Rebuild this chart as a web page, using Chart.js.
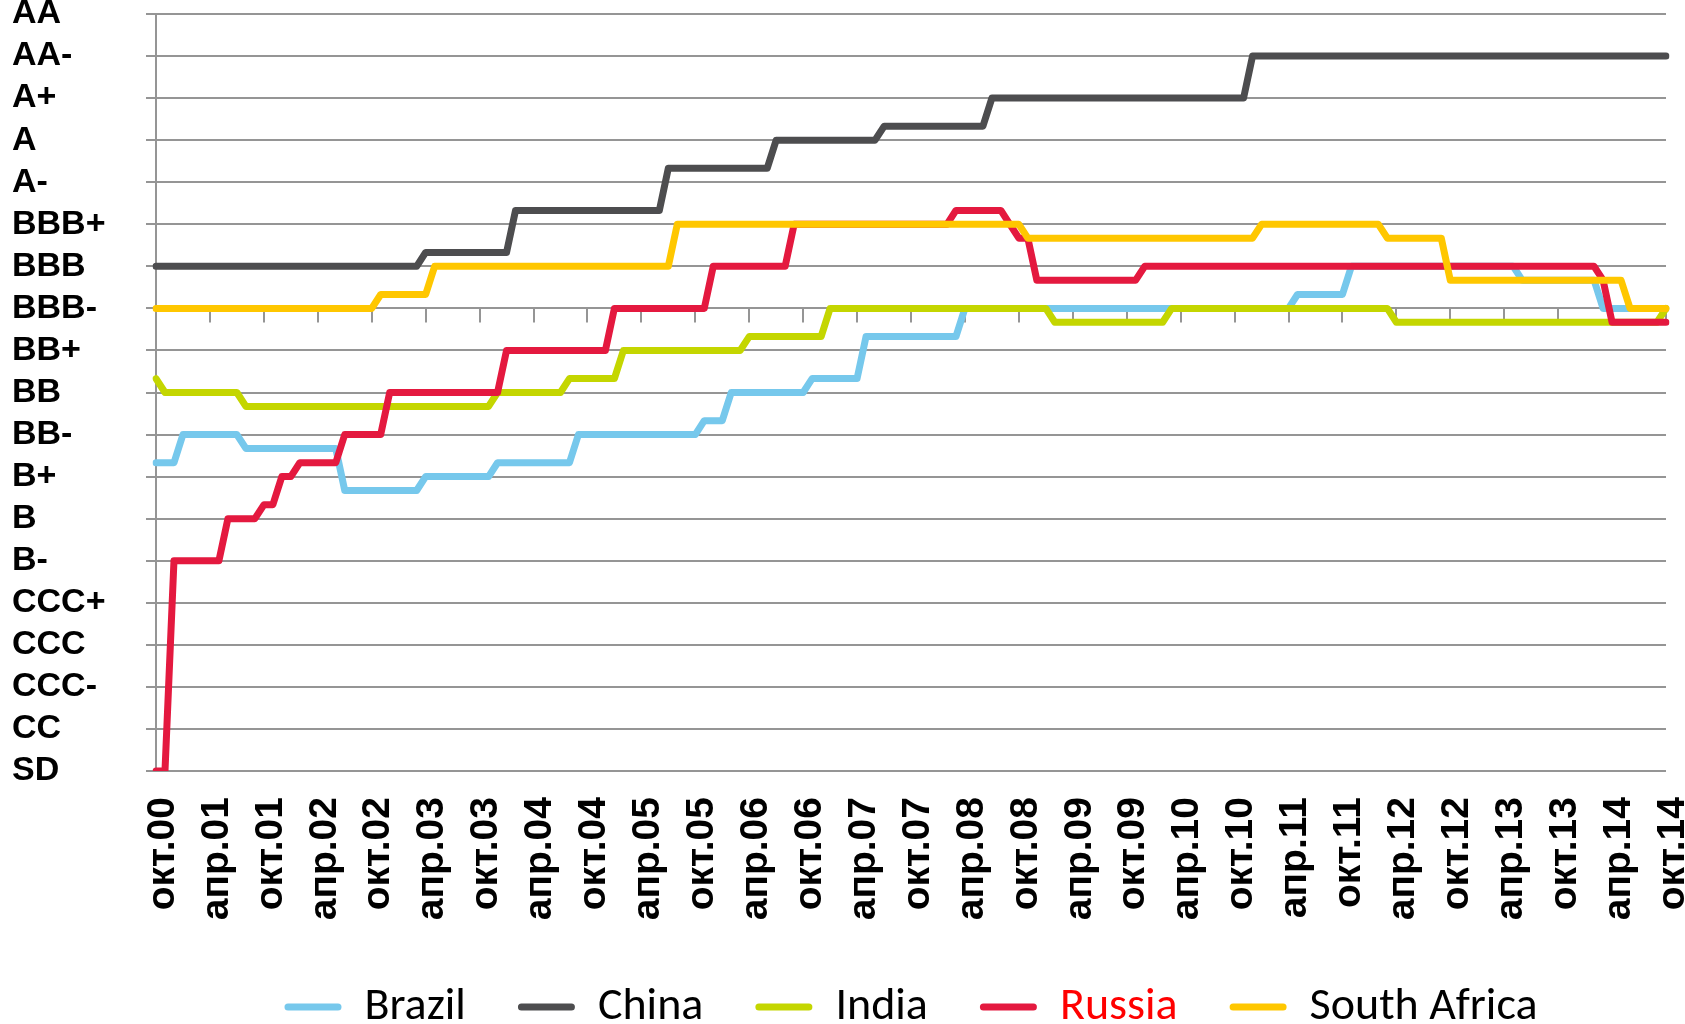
<!DOCTYPE html>
<html>
<head>
<meta charset="utf-8">
<script src="https://cdn.jsdelivr.net/npm/chart.js@4.4.1/dist/chart.umd.min.js"></script>
<style>
  html, body { margin: 0; padding: 0; background: #fff; }
  #wrap { width: 1685px; height: 1024px; }
</style>
</head>
<body>
<div id="wrap"><canvas id="ratingsChart" width="1685" height="1024"></canvas></div>
<script>
// BRICS sovereign ratings, monthly, окт.2000 - окт.2014
// values are notch index (SD = 0 ... AA = 18), averaged over agencies -> thirds

const RATINGS = ['SD', 'CC', 'CCC-', 'CCC', 'CCC+', 'B-', 'B', 'B+', 'BB-', 'BB', 'BB+',
                 'BBB-', 'BBB', 'BBB+', 'A-', 'A', 'A+', 'AA-', 'AA'];
const MONTH_NAMES = ['янв', 'фев', 'мар', 'апр', 'май', 'июн', 'июл', 'авг', 'сен', 'окт', 'ноя', 'дек'];
const SERIES_NAMES = ['Brazil', 'China', 'India', 'Russia', 'South Africa'];

// one row = 12 months, starting with October of each year
const brazil = [
  7.33, 7.33, 7.33, 8, 8, 8, 8, 8, 8, 8, 7.67, 7.67,
  7.67, 7.67, 7.67, 7.67, 7.67, 7.67, 7.67, 7.67, 7.67, 6.67, 6.67, 6.67,
  6.67, 6.67, 6.67, 6.67, 6.67, 6.67, 7, 7, 7, 7, 7, 7,
  7, 7, 7.33, 7.33, 7.33, 7.33, 7.33, 7.33, 7.33, 7.33, 7.33, 8,
  8, 8, 8, 8, 8, 8, 8, 8, 8, 8, 8, 8,
  8, 8.33, 8.33, 8.33, 9, 9, 9, 9, 9, 9, 9, 9,
  9, 9.33, 9.33, 9.33, 9.33, 9.33, 9.33, 10.33, 10.33, 10.33, 10.33, 10.33,
  10.33, 10.33, 10.33, 10.33, 10.33, 10.33, 11, 11, 11, 11, 11, 11,
  11, 11, 11, 11, 11, 11, 11, 11, 11, 11, 11, 11,
  11, 11, 11, 11, 11, 11, 11, 11, 11, 11, 11, 11,
  11, 11, 11, 11, 11, 11, 11, 11.33, 11.33, 11.33, 11.33, 11.33,
  11.33, 12, 12, 12, 12, 12, 12, 12, 12, 12, 12, 12,
  12, 12, 12, 12, 12, 12, 12, 12, 11.67, 11.67, 11.67, 11.67,
  11.67, 11.67, 11.67, 11.67, 11.67, 11, 11, 11, 11, 11, 11, 11,
  11
];

const china = [
  12, 12, 12, 12, 12, 12, 12, 12, 12, 12, 12, 12,
  12, 12, 12, 12, 12, 12, 12, 12, 12, 12, 12, 12,
  12, 12, 12, 12, 12, 12, 12.33, 12.33, 12.33, 12.33, 12.33, 12.33,
  12.33, 12.33, 12.33, 12.33, 13.33, 13.33, 13.33, 13.33, 13.33, 13.33, 13.33, 13.33,
  13.33, 13.33, 13.33, 13.33, 13.33, 13.33, 13.33, 13.33, 13.33, 14.33, 14.33, 14.33,
  14.33, 14.33, 14.33, 14.33, 14.33, 14.33, 14.33, 14.33, 14.33, 15, 15, 15,
  15, 15, 15, 15, 15, 15, 15, 15, 15, 15.33, 15.33, 15.33,
  15.33, 15.33, 15.33, 15.33, 15.33, 15.33, 15.33, 15.33, 15.33, 16, 16, 16,
  16, 16, 16, 16, 16, 16, 16, 16, 16, 16, 16, 16,
  16, 16, 16, 16, 16, 16, 16, 16, 16, 16, 16, 16,
  16, 16, 17, 17, 17, 17, 17, 17, 17, 17, 17, 17,
  17, 17, 17, 17, 17, 17, 17, 17, 17, 17, 17, 17,
  17, 17, 17, 17, 17, 17, 17, 17, 17, 17, 17, 17,
  17, 17, 17, 17, 17, 17, 17, 17, 17, 17, 17, 17,
  17
];

const india = [
  9.33, 9, 9, 9, 9, 9, 9, 9, 9, 9, 8.67, 8.67,
  8.67, 8.67, 8.67, 8.67, 8.67, 8.67, 8.67, 8.67, 8.67, 8.67, 8.67, 8.67,
  8.67, 8.67, 8.67, 8.67, 8.67, 8.67, 8.67, 8.67, 8.67, 8.67, 8.67, 8.67,
  8.67, 8.67, 9, 9, 9, 9, 9, 9, 9, 9, 9.33, 9.33,
  9.33, 9.33, 9.33, 9.33, 10, 10, 10, 10, 10, 10, 10, 10,
  10, 10, 10, 10, 10, 10, 10.33, 10.33, 10.33, 10.33, 10.33, 10.33,
  10.33, 10.33, 10.33, 11, 11, 11, 11, 11, 11, 11, 11, 11,
  11, 11, 11, 11, 11, 11, 11, 11, 11, 11, 11, 11,
  11, 11, 11, 11, 10.67, 10.67, 10.67, 10.67, 10.67, 10.67, 10.67, 10.67,
  10.67, 10.67, 10.67, 10.67, 10.67, 11, 11, 11, 11, 11, 11, 11,
  11, 11, 11, 11, 11, 11, 11, 11, 11, 11, 11, 11,
  11, 11, 11, 11, 11, 11, 10.67, 10.67, 10.67, 10.67, 10.67, 10.67,
  10.67, 10.67, 10.67, 10.67, 10.67, 10.67, 10.67, 10.67, 10.67, 10.67, 10.67, 10.67,
  10.67, 10.67, 10.67, 10.67, 10.67, 10.67, 10.67, 10.67, 10.67, 10.67, 10.67, 10.67,
  11
];

const russia = [
  0, 0, 5, 5, 5, 5, 5, 5, 6, 6, 6, 6,
  6.33, 6.33, 7, 7, 7.33, 7.33, 7.33, 7.33, 7.33, 8, 8, 8,
  8, 8, 9, 9, 9, 9, 9, 9, 9, 9, 9, 9,
  9, 9, 9, 10, 10, 10, 10, 10, 10, 10, 10, 10,
  10, 10, 10, 11, 11, 11, 11, 11, 11, 11, 11, 11,
  11, 11, 12, 12, 12, 12, 12, 12, 12, 12, 12, 13,
  13, 13, 13, 13, 13, 13, 13, 13, 13, 13, 13, 13,
  13, 13, 13, 13, 13, 13.33, 13.33, 13.33, 13.33, 13.33, 13.33, 13,
  12.67, 12.67, 11.67, 11.67, 11.67, 11.67, 11.67, 11.67, 11.67, 11.67, 11.67, 11.67,
  11.67, 11.67, 12, 12, 12, 12, 12, 12, 12, 12, 12, 12,
  12, 12, 12, 12, 12, 12, 12, 12, 12, 12, 12, 12,
  12, 12, 12, 12, 12, 12, 12, 12, 12, 12, 12, 12,
  12, 12, 12, 12, 12, 12, 12, 12, 12, 12, 12, 12,
  12, 12, 12, 12, 12, 11.67, 10.67, 10.67, 10.67, 10.67, 10.67, 10.67,
  10.67
];

const southAfrica = [
  11, 11, 11, 11, 11, 11, 11, 11, 11, 11, 11, 11,
  11, 11, 11, 11, 11, 11, 11, 11, 11, 11, 11, 11,
  11, 11.33, 11.33, 11.33, 11.33, 11.33, 11.33, 12, 12, 12, 12, 12,
  12, 12, 12, 12, 12, 12, 12, 12, 12, 12, 12, 12,
  12, 12, 12, 12, 12, 12, 12, 12, 12, 12, 13, 13,
  13, 13, 13, 13, 13, 13, 13, 13, 13, 13, 13, 13,
  13, 13, 13, 13, 13, 13, 13, 13, 13, 13, 13, 13,
  13, 13, 13, 13, 13, 13, 13, 13, 13, 13, 13, 13,
  13, 12.67, 12.67, 12.67, 12.67, 12.67, 12.67, 12.67, 12.67, 12.67, 12.67, 12.67,
  12.67, 12.67, 12.67, 12.67, 12.67, 12.67, 12.67, 12.67, 12.67, 12.67, 12.67, 12.67,
  12.67, 12.67, 12.67, 13, 13, 13, 13, 13, 13, 13, 13, 13,
  13, 13, 13, 13, 13, 12.67, 12.67, 12.67, 12.67, 12.67, 12.67, 12.67,
  11.67, 11.67, 11.67, 11.67, 11.67, 11.67, 11.67, 11.67, 11.67, 11.67, 11.67, 11.67,
  11.67, 11.67, 11.67, 11.67, 11.67, 11.67, 11.67, 11.67, 11, 11, 11, 11,
  11
];

// --- STYLE ---
const SERIES_COLORS = ['#76c8ec', '#4d4d4f', '#c4d600', '#e4193f', '#ffc700'];
const LEGEND_TEXT_COLORS = ['#000000', '#000000', '#000000', '#ff0000', '#000000'];
const DRAW_ORDER = [5, 4, 3, 2, 1];   // South Africa on top, Brazil at the bottom
const GRID_COLOR = '#959595';
const AXIS_CROSS = 11;                // horizontal axis crosses at BBB-
const TICK_EVERY = 6;
const AXIS_FONT = "'Liberation Sans', Arial, sans-serif";

// month labels: окт.00 ... окт.14
const monthLabels = [];
for (let i = 0; i < brazil.length; i++) {
    const m = (9 + i) % 12;
    const y = (Math.floor((9 + i) / 12)) % 100;
    monthLabels.push(MONTH_NAMES[m] + '.' + String(y).padStart(2, '0'));
}

const seriesData = [brazil, china, india, russia, southAfrica];

// small tick marks hanging from the BBB- line, like Excel's crossing axis
const crossTicks = {
    id: 'crossTicks',
    beforeDatasetsDraw(chart) {
        const xs = chart.scales.x;
        const yPix = chart.scales.y.getPixelForValue(AXIS_CROSS);
        const ctx = chart.ctx;
        ctx.save();
        ctx.strokeStyle = GRID_COLOR;
        ctx.lineWidth = 2;
        ctx.beginPath();
        for (let i = TICK_EVERY; i < monthLabels.length; i += TICK_EVERY) {
            const px = Math.round(xs.getPixelForValue(i));
            ctx.moveTo(px, yPix);
            ctx.lineTo(px, yPix + 14);
        }
        ctx.stroke();
        ctx.restore();
    }
};

const ctx = document.getElementById('ratingsChart').getContext('2d');
const chart = new Chart(ctx, {
    type: 'line',
    data: {
        labels: monthLabels,
        datasets: SERIES_NAMES.map((name, i) => ({
            label: name,
            data: seriesData[i],
            borderColor: SERIES_COLORS[i],
            backgroundColor: SERIES_COLORS[i],
            borderWidth: 7,
            borderJoinStyle: 'round',
            borderCapStyle: 'round',
            pointRadius: 0,
            tension: 0,
            fill: false,
            order: DRAW_ORDER[i]
        }))
    },
    options: {
        responsive: false,
        animation: false,
        layout: { padding: { left: 12, right: 19, top: 14, bottom: -16 } },
        scales: {
            x: {
                offset: false,
                grid: { display: false, drawTicks: false },
                border: { display: false },
                afterFit(scale) {
                    scale.height = 161;
                    scale.paddingLeft = 0;
                    scale.paddingRight = 0;
                },
                ticks: {
                    autoSkip: false,
                    minRotation: 90,
                    maxRotation: 90,
                    padding: 26,
                    labelOffset: 7,
                    color: '#000',
                    font: { family: AXIS_FONT, size: 39, weight: 'bold' },
                    callback: function (val, index) {
                        return index % TICK_EVERY === 0 ? this.getLabelForValue(val) : '';
                    }
                }
            },
            y: {
                min: 0,
                max: 18,
                grid: { color: GRID_COLOR, lineWidth: 2, tickLength: 10 },
                border: { display: true, color: GRID_COLOR, width: 2 },
                afterFit(scale) {
                    scale.width = 144;
                    scale.paddingTop = 0;
                    scale.paddingBottom = 0;
                },
                ticks: {
                    stepSize: 1,
                    autoSkip: false,
                    crossAlign: 'far',
                    padding: 39,
                    color: '#000',
                    font: { family: AXIS_FONT, size: 34, weight: 'bold', lineHeight: 0.8 },
                    callback: (v) => RATINGS[v]
                }
            }
        },
        plugins: {
            tooltip: { enabled: false },
            legend: {
                position: 'bottom',
                fullSize: false,
                labels: {
                    boxWidth: 57,
                    boxHeight: 7,
                    useBorderRadius: true,
                    borderRadius: 3.5,
                    padding: 52,
                    color: '#000',
                    font: { family: "Carlito, 'Liberation Sans Narrow', 'Arial Narrow', 'Noto Sans', sans-serif", size: 46 },
                    sort: (a, b) => a.datasetIndex - b.datasetIndex,
                    generateLabels(chart) {
                        const items = Chart.defaults.plugins.legend.labels.generateLabels(chart);
                        items.forEach(it => {
                            it.fontColor = LEGEND_TEXT_COLORS[it.datasetIndex];
                            it.fillStyle = SERIES_COLORS[it.datasetIndex];
                            it.lineWidth = 0;
                        });
                        return items;
                    }
                }
            }
        }
    },
    plugins: [crossTicks]
});
</script>
</body>
</html>
